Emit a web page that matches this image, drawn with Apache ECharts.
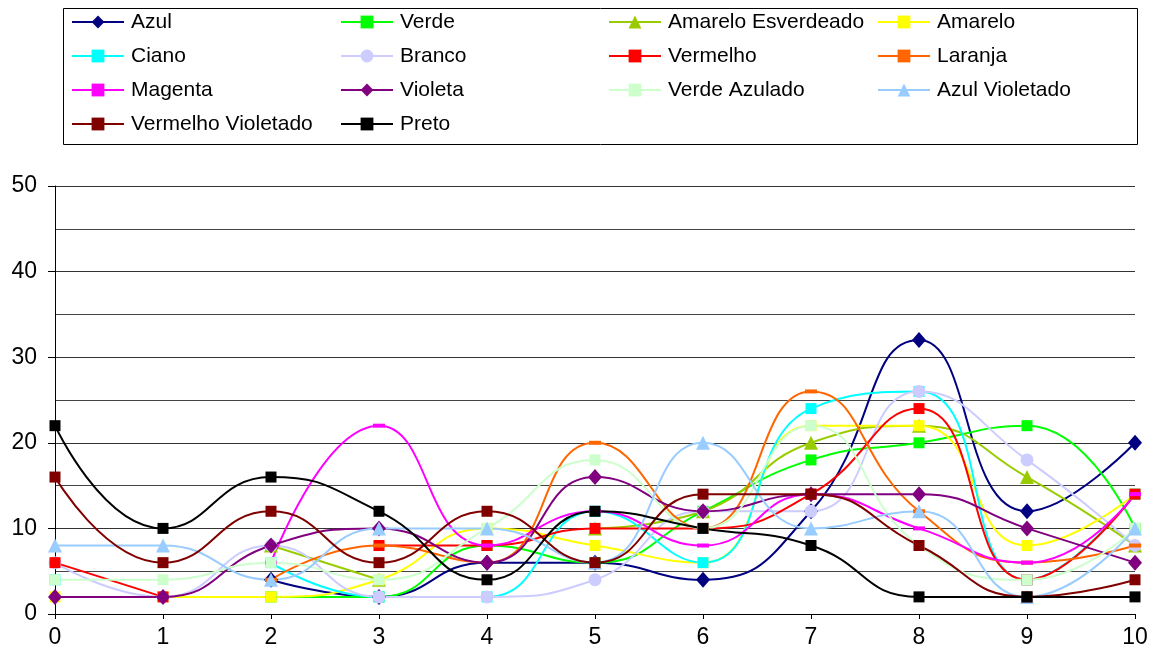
<!DOCTYPE html>
<html>
<head>
<meta charset="utf-8">
<script src="https://cdn.jsdelivr.net/npm/echarts@6/dist/echarts.min.js"></script>
<style>html,body{margin:0;padding:0;background:#fff}#c{width:1154px;height:655px}</style>
</head>
<body>
<div id="c"></div>
<script>
const categories = ['0','1','2','3','4','5','6','7','8','9','10'];
const names = ['Azul','Verde','Amarelo Esverdeado','Amarelo','Ciano','Branco','Vermelho','Laranja','Magenta','Violeta','Verde Azulado','Azul Violetado','Vermelho Violetado','Preto'];
const azul              = [null,null,4,2,6,6,4,12,32,12,20];
const verde             = [null,null,2,2,8,6,12,18,20,22,10];
const amareloEsverdeado = [null,null,8,4,null,10,12,20,22,16,8];
const amarelo           = [2,2,2,4,10,8,6,22,22,8,14];
const ciano             = [4,null,6,2,2,12,6,24,26,4,14];
const branco            = [6,2,8,2,2,4,12,12,26,18,8];
const vermelho          = [6,2,null,8,8,10,10,14,24,4,14];
const laranja           = [null,null,4,8,6,20,10,26,12,6,8];
const magenta           = [null,null,6,22,8,12,8,14,10,6,14];
const violeta           = [2,2,8,10,6,16,12,14,14,10,6];
const verdeAzulado      = [4,4,6,4,10,18,10,22,8,4,10];
const azulVioletado     = [8,8,4,10,10,6,20,10,12,2,10];
const vermelhoVioletado = [16,6,12,6,12,6,14,14,8,2,4];
const preto             = [22,10,16,12,4,12,10,8,2,2,2];
const yTicks = [0,10,20,30,40,50];

const values = [azul,verde,amareloEsverdeado,amarelo,ciano,branco,vermelho,laranja,magenta,violeta,verdeAzulado,azulVioletado,vermelhoVioletado,preto];
const colors = ['#000080','#00FF00','#99CC00','#FFFF00','#00FFFF','#CCCCFF','#FF0000','#FF6600','#FF00FF','#800080','#CCFFCC','#99CCFF','#800000','#000000'];
const symbols = ['diamond','rect','triangle','rect','rect','circle','rect','rect','rect','diamond','rect','triangle','rect','rect'];
const sizes = [[14,16],11,[14,14],11,11,13,11,[12,4],[12,4],[14,16],11,[14,14],11,11];

const FONT = 'Liberation Sans, Arial, sans-serif';
const colLeft = [71,340,608,877];
const legends = names.map((n,i)=>({
  data:[n], left: colLeft[i%4], top: 11 + 34*Math.floor(i/4), orient:'horizontal',
  padding:0, itemGap:0, itemWidth:52, itemHeight:16,
  textStyle:{fontFamily:FONT,fontSize:21,color:'#000',lineHeight:22,padding:[0,0,0,2]}
}));

const chart = echarts.init(document.getElementById('c'), null, {renderer:'canvas'});
chart.setOption({
  animation:false,
  backgroundColor:'#fff',
  graphic:[{type:'rect',shape:{x:63.5,y:8.5,width:1074,height:136},style:{fill:'none',stroke:'#000',lineWidth:1},silent:true}],
  legend: legends,
  grid:{left:55,right:19,top:186,bottom:41,containLabel:false},
  xAxis:{type:'category',data:categories,boundaryGap:false,
    axisLine:{lineStyle:{color:'#000',width:1}},
    axisTick:{show:true,length:5,lineStyle:{color:'#000'}},
    axisLabel:{fontFamily:FONT,fontSize:23,color:'#000',margin:12},
    splitLine:{show:false}},
  yAxis:{type:'value',min:0,max:50,interval:10,
    axisLine:{show:true,lineStyle:{color:'#000',width:1}},
    axisTick:{show:true,length:7,lineStyle:{color:'#000'}},
    axisLabel:{fontFamily:FONT,fontSize:23,color:'#000',margin:18,formatter:v=>yTicks.includes(v)?String(v):''},
    splitLine:{show:true,lineStyle:{color:'#333',width:1}},
    minorTick:{show:false,splitNumber:2},
    minorSplitLine:{show:true,lineStyle:{color:'#444',width:1}}},
  series: names.map((n,i)=>({
    name:n,type:'line',data:values[i],smooth:0.5,connectNulls:false,
    symbol:symbols[i],symbolSize:sizes[i],showSymbol:true,
    lineStyle:{color:colors[i],width:2},
    itemStyle:{color:colors[i],borderWidth:0},
    emphasis:{disabled:true}
  }))
});
</script>
</body>
</html>
